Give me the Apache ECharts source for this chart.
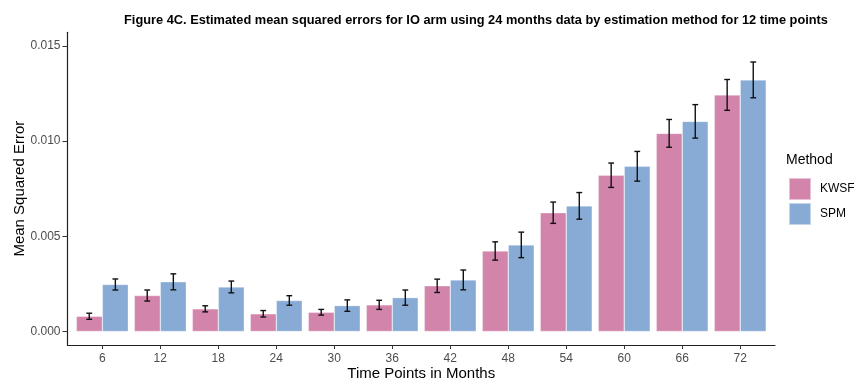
<!DOCTYPE html>
<html>
<head>
<meta charset="utf-8">
<script src="https://cdn.jsdelivr.net/npm/echarts@6/dist/echarts.min.js"></script>
<style>
  html, body { margin: 0; padding: 0; background: #fff; }
  #chart { width: 854px; height: 383px; }
</style>
</head>
<body>
<div id="chart"></div>
<script>
// Time points (months) on the x axis
const timePoints = ['6', '12', '18', '24', '30', '36', '42', '48', '54', '60', '66', '72'];
// Mean squared error by estimation method
const kwsfMse = [0.00080, 0.00189, 0.00119, 0.00093, 0.00101, 0.00140, 0.00240, 0.00423, 0.00624, 0.00821, 0.01041, 0.01243];
const spmMse  = [0.00247, 0.00261, 0.00234, 0.00163, 0.00136, 0.00178, 0.00271, 0.00455, 0.00660, 0.00868, 0.01104, 0.01322];
// Half-width of the error bars
const kwsfErr = [0.00016, 0.00029, 0.00016, 0.00017, 0.00015, 0.00024, 0.00035, 0.00048, 0.00056, 0.00064, 0.00073, 0.00081];
const spmErr  = [0.00029, 0.00042, 0.00031, 0.00025, 0.00030, 0.00040, 0.00052, 0.00067, 0.00070, 0.00078, 0.00088, 0.00094];
// Y axis tick values
const yTicks = [0, 0.005, 0.010, 0.015];

const methods = ['KWSF', 'SPM'];
const colors = ['#D384AB', '#88ABD5'];
const dodge = 0.225;   // half of a dodged bar, in category units
const FONT = '"Liberation Sans", Arial, Helvetica, sans-serif';

const chart = echarts.init(document.getElementById('chart'), null, { renderer: 'canvas' });

const pos = timePoints.map((_, i) => i + 1);
const barData = (vals) => vals.map((v, i) => [pos[i], v]);
const errData = (vals, errs, off) => vals.map((v, i) => [pos[i] + off, v, errs[i]]);

function renderErrorBar(params, api) {
  const x = api.value(0), y = api.value(1), e = api.value(2);
  const lo = api.coord([x, y - e]);
  const hi = api.coord([x, y + e]);
  const half = api.size([0.05, 0])[0];
  const style = { stroke: '#111', lineWidth: 1.4 };
  return {
    type: 'group',
    children: [
      { type: 'line', shape: { x1: lo[0], y1: lo[1], x2: hi[0], y2: hi[1] }, style },
      { type: 'line', shape: { x1: lo[0] - half, y1: lo[1], x2: lo[0] + half, y2: lo[1] }, style },
      { type: 'line', shape: { x1: hi[0] - half, y1: hi[1], x2: hi[0] + half, y2: hi[1] }, style }
    ]
  };
}

const option = {
  animation: false,
  backgroundColor: '#ffffff',
  title: {
    text: 'Figure 4C. Estimated mean squared errors for IO arm using 24 months data by estimation method for 12 time points',
    left: 471, top: 9, textAlign: 'center',
    textStyle: { fontFamily: FONT, fontSize: 12.8, fontWeight: 'bold', color: '#000' }
  },
  graphic: [{
    type: 'text', left: 786, top: 153,
    style: { text: 'Method', fontFamily: FONT, fontSize: 14, fill: '#000' }
  }],
  legend: {
    orient: 'vertical', left: 788, top: 177,
    itemWidth: 22, itemHeight: 22, itemGap: 1, padding: 0,
    icon: 'rect',
    data: methods,
    textStyle: { fontFamily: FONT, fontSize: 12, color: '#000', padding: [0, 0, 0, 4] }
  },
  grid: {
    left: 67.5, right: 79, top: 32.3, bottom: 38,
    containLabel: false, outerBoundsMode: 'none'
  },
  xAxis: {
    type: 'value', min: 0.4, max: 12.6,
    name: 'Time Points in Months', nameLocation: 'middle', nameGap: 21, nameMoveOverlap: false,
    nameTextStyle: { fontFamily: FONT, fontSize: 15, color: '#000' },
    axisLine: { show: true, onZero: false, lineStyle: { color: '#222', width: 1.2 } },
    axisTick: { show: true, length: 4, lineStyle: { color: '#333', width: 1 }, customValues: pos },
    axisLabel: {
      margin: 8, fontFamily: FONT, fontSize: 12, color: '#4D4D4D',
      customValues: pos,
      formatter: (v) => timePoints[Math.round(v) - 1]
    },
    splitLine: { show: false }
  },
  yAxis: {
    type: 'value', min: -0.00071, max: 0.01572,
    name: 'Mean Squared Error', nameLocation: 'middle', nameGap: 40, nameMoveOverlap: false,
    nameTextStyle: { fontFamily: FONT, fontSize: 15, color: '#000' },
    axisLine: { show: true, onZero: false, lineStyle: { color: '#222', width: 1.2 } },
    axisTick: { show: true, length: 5, lineStyle: { color: '#333', width: 1 }, customValues: yTicks },
    axisLabel: {
      margin: 7, fontFamily: FONT, fontSize: 12, color: '#4D4D4D',
      customValues: yTicks,
      formatter: (v) => v.toFixed(3)
    },
    splitLine: { show: false }
  },
  series: [
    {
      name: methods[0], type: 'bar', data: barData(kwsfMse),
      barWidth: 26, barGap: '0%',
      itemStyle: { color: colors[0], borderColor: 'rgba(255,255,255,0.5)', borderWidth: 0.6 }
    },
    {
      name: methods[1], type: 'bar', data: barData(spmMse),
      barWidth: 26, barGap: '0%',
      itemStyle: { color: colors[1], borderColor: 'rgba(255,255,255,0.5)', borderWidth: 0.6 }
    },
    {
      name: 'KWSF error', type: 'custom', renderItem: renderErrorBar,
      data: errData(kwsfMse, kwsfErr, -dodge), z: 5, silent: true
    },
    {
      name: 'SPM error', type: 'custom', renderItem: renderErrorBar,
      data: errData(spmMse, spmErr, dodge), z: 5, silent: true
    }
  ]
};

chart.setOption(option);
</script>
</body>
</html>
